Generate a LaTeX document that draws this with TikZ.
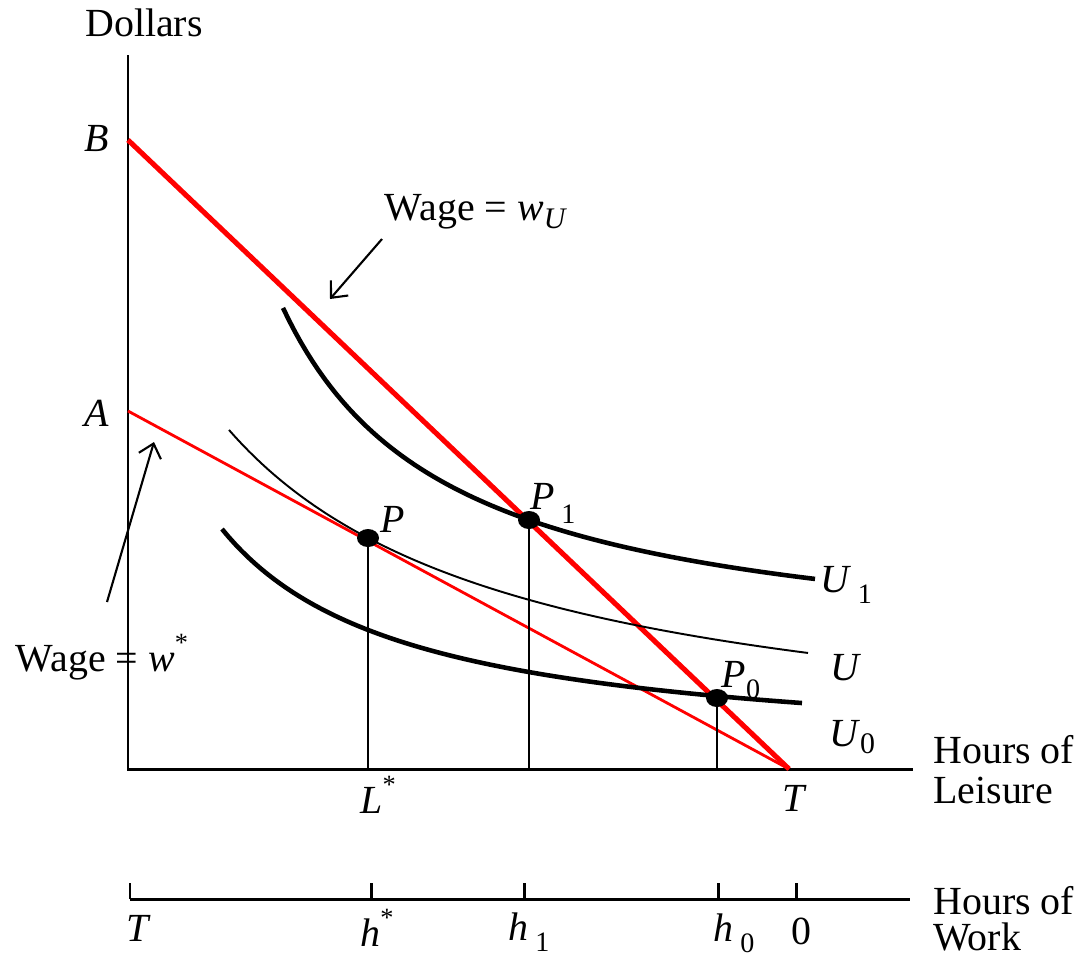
\documentclass[tikz,border=0pt]{standalone}
\usepackage{fontspec}
\setmainfont{Liberation Serif}
\usetikzlibrary{arrows.meta,shapes.geometric}
\newcommand\lsub[3]{\raisebox{-#2}{\fontsize{#1}{#1}\selectfont #3}}
\newcommand\lsup[1]{\raisebox{1.1ex}{\fontsize{15}{15}\selectfont #1}}
\definecolor{redline}{RGB}{255,0,0}
\begin{document}
\begin{tikzpicture}[x=0.02cm,y=-0.02cm,
  lbl/.style={inner sep=0pt,font=\rmfamily\fontsize{22.7}{22.7}\selectfont},
  axisline/.style={line width=1.7pt,black},
  thickcurve/.style={line width=2.6pt,black},
  thincurve/.style={line width=1.1pt,black},
  budgetthick/.style={line width=2.9pt,redline},
  budgetthin/.style={line width=1.6pt,redline},
  dropline/.style={line width=1.1pt,black},
  ptdot/.style={ellipse,fill=black,inner sep=0pt,minimum width=0.44cm,minimum height=0.36cm},
  pointer/.style={line width=1.2pt,-{Straight Barb[length=2.6mm,width=4.6mm,line width=1.2pt]}}]
\useasboundingbox (0,0) rectangle (1084,957);
% axes
\coordinate (O) at (128,769);
\coordinate (ytop) at (128,55);
\coordinate (xend) at (913,769);
\coordinate (B) at (128,140);
\coordinate (A) at (128,411);
\coordinate (T) at (789,769);
\draw[axisline] (ytop) -- (O) -- (xend);
% budget lines
\draw[budgetthin] (A) -- (T);
\draw[budgetthick] (B) -- (T);
% indifference curves
\draw[thickcurve] plot[domain=283:815,samples=90] (\x,{664.2-596.35/((\x-115.6)/100)});
\draw[thincurve] plot[domain=229:808,samples=90] (\x,{766-986.28/((\x+64.5)/100)});
\draw[thickcurve] plot[domain=222:802,samples=90] (\x,{759.1-430/((\x-35.1)/100)});
% points
\node[ptdot] (pP) at (368,538) {};
\node[ptdot] (pP1) at (529,520) {};
\node[ptdot] (pP0) at (717,698) {};
\draw[dropline] (pP.center) -- (pP.center |- O);
\draw[dropline] (pP1.center) -- (pP1.center |- O);
\draw[dropline] (pP0.center) -- (pP0.center |- O);
% labels
\node[lbl] (dollars) at (144,23) {Dollars};
\node[lbl] (lB) at (97,138) {\textit{B}};
\node[lbl] (lA) at (97,413) {\textit{A}};
\node[lbl] (lP) at (393,519) {\textit{P}};
\node[lbl] (lP1) at (553,503) {\textit{P}\,\lsub{16}{8pt}{1}};
\node[lbl] (lP0) at (741,680) {\textit{P}\lsub{16}{6.5pt}{0}};
\node[lbl] (lU1) at (846,585) {\textit{U}\,\lsub{16}{6.5pt}{1}};
\node[lbl] (lU) at (846,668) {\textit{U}};
\node[lbl] (lU0) at (852,737) {\textit{U}\lsub{17}{3.5pt}{0}};
\node[lbl] (lL) at (378,795) {\textit{L}\lsup{*}};
\node[lbl] (lT) at (795,798) {\textit{T}};
\node[lbl,anchor=west,align=left] (leisure) at (933,770) {Hours of\\[0pt]Leisure};
% wage labels and arrows
\node[lbl] (wU) at (476,212) {Wage\ = \textit{w}\lsub{17}{4.5pt}{\textit{U}}};
\coordinate (wUs) at (382,239);
\coordinate (wUe) at (330,299);
\draw[pointer] (wUs) -- (wUe);
\node[lbl] (wstar) at (102,657) {Wage\ = \textit{w}\lsup{*}};
\coordinate (wss) at (107,602);
\coordinate (wse) at (154,442);
\draw[pointer] (wss) -- (wse);
% work axis
\coordinate (W0) at (130,899);
\coordinate (W1) at (910,899);
\draw[axisline] (W0) -- (W1);
\foreach \n/\xx in {tT/130,th/371,t1/524,t0/718,tz/796} {
  \coordinate (\n) at (\xx,899);
  \draw[axisline] (\n) -- ++(0,-16);
}
\node[lbl] (bT) at (139,928) {\textit{T}};
\node[lbl] (bh) at (377,928) {\textit{h}\lsup{*}};
\node[lbl] (bh1) at (529,932) {\textit{h}\,\lsub{16}{6.5pt}{1}};
\node[lbl] (bh0) at (734,933) {\textit{h}\,\lsub{16}{6.5pt}{0}};
\node[lbl] (b0) at (801,931) {0};
\node[lbl,anchor=west,align=left] (work) at (933,919) {Hours of\\[-2pt]Work};
\end{tikzpicture}
\end{document}
